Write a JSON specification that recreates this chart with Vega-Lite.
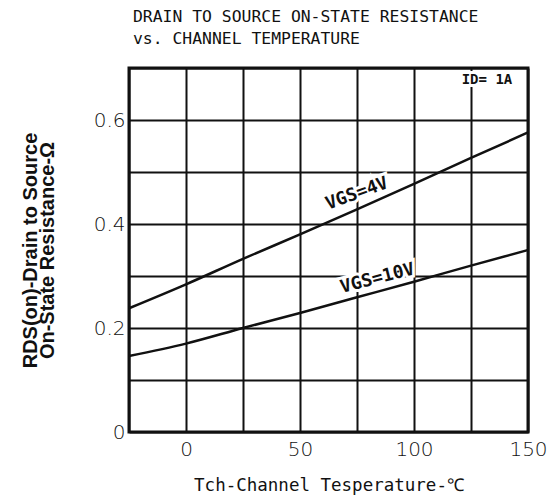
{
  "$schema": "https://vega.github.io/schema/vega-lite/v6.json",
  "width": 399,
  "height": 364,
  "autosize": {"type": "none"},
  "padding": {"left": 129, "top": 68, "right": 24, "bottom": 71},
  "background": "white",
  "config": {
    "view": {"stroke": "#111", "strokeWidth": 3},
    "axis": {"gridColor": "#111", "gridWidth": 2, "gridOpacity": 1, "ticks": false, "domain": false, "labelColor": "#111", "titleColor": "#111"}
  },
  "title": {
    "text": ["DRAIN TO SOURCE ON-STATE RESISTANCE", "vs. CHANNEL TEMPERATURE"],
    "anchor": "start",
    "frame": "group",
    "font": "DejaVu Sans Mono",
    "fontSize": 16.4,
    "fontWeight": "normal",
    "lineHeight": 22,
    "offset": 11,
    "dx": 4,
    "color": "#111"
  },
  "datasets": {
    "curves": [
      {"series": "VGS=4V", "T": -25, "R": 0.238},
      {"series": "VGS=4V", "T": 0, "R": 0.284},
      {"series": "VGS=4V", "T": 25, "R": 0.333},
      {"series": "VGS=4V", "T": 50, "R": 0.380},
      {"series": "VGS=4V", "T": 75, "R": 0.428},
      {"series": "VGS=4V", "T": 100, "R": 0.477},
      {"series": "VGS=4V", "T": 125, "R": 0.527},
      {"series": "VGS=4V", "T": 150, "R": 0.576},
      {"series": "VGS=10V", "T": -25, "R": 0.146},
      {"series": "VGS=10V", "T": 0, "R": 0.170},
      {"series": "VGS=10V", "T": 25, "R": 0.200},
      {"series": "VGS=10V", "T": 50, "R": 0.229},
      {"series": "VGS=10V", "T": 75, "R": 0.259},
      {"series": "VGS=10V", "T": 100, "R": 0.289},
      {"series": "VGS=10V", "T": 125, "R": 0.320},
      {"series": "VGS=10V", "T": 150, "R": 0.350}
    ],
    "labels": [
      {"key": "4V", "T": 75, "R": 0.458, "text": "VGS=4V"},
      {"key": "10V", "T": 84, "R": 0.295, "text": "VGS=10V"},
      {"key": "ID", "T": 132, "R": 0.676, "text": "ID= 1A"}
    ]
  },
  "encoding": {
    "x": {
      "field": "T",
      "type": "quantitative",
      "scale": {"domain": [-25, 150], "nice": false, "zero": false},
      "axis": {
        "values": [-25, 0, 25, 50, 75, 100, 125, 150],
        "grid": true,
        "labelExpr": "datum.value % 50 == 0 ? datum.label : ''",
        "labelFont": "DejaVu Sans",
        "labelFontSize": 20,
        "labelFontWeight": 300,
        "labelPadding": 7,
        "labelFlush": false,
        "labelOverlap": false,
        "title": "Tch-Channel Tesperature-℃",
        "titleFont": "DejaVu Sans Mono",
        "titleFontSize": 17.5,
        "titleFontWeight": "normal",
        "titlePadding": 17
      }
    },
    "y": {
      "field": "R",
      "type": "quantitative",
      "scale": {"domain": [0, 0.7], "nice": false},
      "axis": {
        "values": [0, 0.1, 0.2, 0.3, 0.4, 0.5, 0.6, 0.7],
        "grid": true,
        "labelExpr": "round(datum.value * 10) % 2 == 0 ? format(datum.value, '.1~f') : ''",
        "labelFont": "DejaVu Sans",
        "labelFontSize": 20,
        "labelFontWeight": 300,
        "labelPadding": 4,
        "labelFlush": false,
        "labelOverlap": false,
        "title": ["RDS(on)-Drain to Source", "On-State Resistance-Ω"],
        "titleFont": "Liberation Sans",
        "titleFontSize": 20,
        "titleFontWeight": "bold",
        "titleLineHeight": 17,
        "titlePadding": 36
      }
    }
  },
  "layer": [
    {
      "data": {"name": "labels"},
      "mark": {"type": "text", "font": "DejaVu Sans Mono", "fontWeight": "bold", "align": "center", "baseline": "middle", "fill": "white", "stroke": "white", "strokeWidth": 6},
      "encoding": {
        "text": {"field": "text"},
        "angle": {"condition": [{"test": "datum.key == '4V'", "value": 340}, {"test": "datum.key == '10V'", "value": 345.5}], "value": 0},
        "size": {"condition": {"test": "datum.key == 'ID'", "value": 14}, "value": 18}
      }
    },
    {
      "data": {"name": "curves"},
      "mark": {"type": "line", "color": "#111", "strokeWidth": 2.5, "interpolate": "monotone"},
      "encoding": {"detail": {"field": "series"}}
    },
    {
      "data": {"name": "labels"},
      "mark": {"type": "text", "font": "DejaVu Sans Mono", "fontWeight": "bold", "align": "center", "baseline": "middle", "color": "#111"},
      "encoding": {
        "text": {"field": "text"},
        "angle": {"condition": [{"test": "datum.key == '4V'", "value": 340}, {"test": "datum.key == '10V'", "value": 345.5}], "value": 0},
        "size": {"condition": {"test": "datum.key == 'ID'", "value": 14}, "value": 18}
      }
    }
  ]
}
